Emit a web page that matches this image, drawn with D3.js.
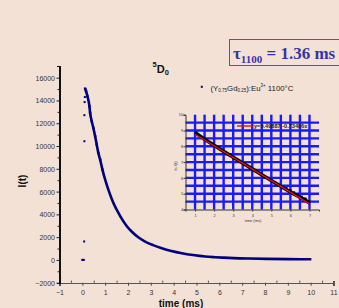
<!DOCTYPE html>
<html><head><meta charset="utf-8">
<script src="https://cdn.jsdelivr.net/npm/d3@7"></script>
<style>
html,body{margin:0;padding:0;background:#f3e1d6;}
svg{display:block;}
text{font-family:"Liberation Sans",Arial,sans-serif;}
text.serif{font-family:"Liberation Serif","Times New Roman",serif;}
</style></head>
<body>
<script>
// ---- data ----
const xTicks = [-1,0,1,2,3,4,5,6,7,8,9,10,11];
const yTicks = [-2000,0,2000,4000,6000,8000,10000,12000,14000,16000];
const earlyT = [0.00,0.02,0.04,0.06,0.08,0.09,0.09,0.10,0.11];
const earlyI = [0,0,0,0,1620,10420,12710,13860,14300];
const decayT = [0.12,0.16,0.22,0.31,0.34,0.41,0.48,0.56,0.63,0.70,0.78,0.88,1.00,1.14,1.28,1.43,1.58,1.73,1.95,2.17,2.45,2.75,3.10,3.48,3.90,4.36,4.85,5.38,5.82,6.20,6.62,7.30,8.09,9.00,10.03];
const decayI = [15040,14830,14390,13500,12920,12190,11600,10860,10130,9400,8810,7930,7050,6170,5400,4700,4130,3600,2960,2470,1990,1610,1300,1030,790,590,430,300,240,200,160,120,90,70,60];
const insetXTicks = [1,2,3,4,5,6,7];
const insetYTicks = [4,5,6,7,8,9,10];
const lnT = [1.0,1.25,1.5,1.75,2.0,2.5,3.0,3.5,4.0,4.5,5.0,5.5,5.8,6.0,6.2,6.4,6.6,6.8,7.0];
const lnY = [8.88,8.66,8.45,8.26,8.06,7.68,7.31,6.94,6.57,6.20,5.83,5.47,5.25,5.12,4.97,4.85,4.70,4.58,4.40];
const fitIntercept = 9.49887, fitSlope = 0.73486;
const fitT = [1,7];
const gridX = [1,1.5,2,2.5,3,3.5,4,4.5,5,5.5,6,6.5,7];
const gridY = [4.5,5,5.5,6,6.5,7,7.5,8,8.5,9,9.5];

const W=339,H=308;
const svg=d3.select("body").append("svg").attr("width",W).attr("height",H);
svg.append("rect").attr("width",W).attr("height",H).attr("fill","#f3e1d6");

const x=d3.scaleLinear().domain([-1,11]).range([59.5,333.5]);
const y=d3.scaleLinear().domain([-2000,17000]).range([282.7,66.3]);

// axes
const gx=svg.append("g").attr("transform",`translate(0,${y(-2000)})`);
gx.call(d3.axisBottom(x).tickValues(xTicks).tickSize(3).tickFormat(d3.format("d")));
const gxm=svg.append("g").attr("transform",`translate(0,${y(-2000)})`);
gxm.call(d3.axisBottom(x).tickValues(d3.range(-0.5,11,1)).tickSize(-2).tickFormat(""));
const gy=svg.append("g").attr("transform",`translate(${x(-1)},0)`);
gy.call(d3.axisLeft(y).tickValues(yTicks).tickSize(3).tickFormat(d3.format("d")));
const gym=svg.append("g").attr("transform",`translate(${x(-1)},0)`);
gym.call(d3.axisLeft(y).tickValues(d3.range(-1000,17000,2000)).tickSize(2).tickFormat(""));
[gx,gxm].forEach(g=>{g.select(".domain").attr("stroke","#555").attr("stroke-width",1.2);g.selectAll(".tick line").attr("stroke","#444");});
gy.select(".domain").attr("stroke","#111").attr("stroke-width",1.2);
gym.select(".domain").remove();
gy.selectAll(".tick line").attr("stroke","#222");
gym.selectAll(".tick line").attr("stroke","#222");
gx.selectAll("text").attr("font-size",7).attr("fill","#333").attr("dy","0.9em");
gy.selectAll("text").attr("font-size",7).attr("fill","#333").attr("dy","0.35em").attr("x",-4.5);
svg.selectAll(".domain").attr("shape-rendering","crispEdges");

// main curve
const dec=decayT.map((t,i)=>[t,decayI[i]]);
svg.append("path").datum(dec)
  .attr("d",d3.line().x(d=>x(d[0])).y(d=>y(d[1])).curve(d3.curveMonotoneX))
  .attr("fill","none").attr("stroke","#00007f").attr("stroke-width",2.6);
svg.append("g").selectAll("rect").data(earlyT.map((t,i)=>[t,earlyI[i]])).join("rect")
  .attr("x",d=>x(d[0])-1).attr("y",d=>y(d[1])-1).attr("width",2).attr("height",2).attr("fill","#00007f");
svg.append("g").selectAll("rect").data(dec.slice(0,12)).join("rect")
  .attr("x",d=>x(d[0])-1.2).attr("y",d=>y(d[1])-1.2).attr("width",2.4).attr("height",2.4).attr("fill","#00007f");

// axis labels
svg.append("text").attr("transform",`translate(26,181) rotate(-90)`).attr("text-anchor","middle")
  .attr("font-size",10).attr("font-weight","bold").attr("fill","#111").text("I(t)");
svg.append("text").attr("x",181).attr("y",307).attr("text-anchor","middle")
  .attr("font-size",10).attr("font-weight","bold").attr("fill","#111").text("time (ms)");

// title 5D0
const tt=svg.append("text").attr("x",152.5).attr("y",73).attr("font-size",11).attr("font-weight","bold").attr("fill","#111");
tt.append("tspan").attr("font-size",7.5).attr("dy",-6).text("5");
tt.append("tspan").attr("dy",6).text("D");
tt.append("tspan").attr("font-size",7.5).attr("dy",2).text("0");

// tau box
svg.append("rect").attr("x",229.5).attr("y",39.5).attr("width",120).attr("height",26)
  .attr("fill","none").attr("stroke","#a83a6a").attr("stroke-width",1);
const tau=svg.append("text").attr("class","serif").attr("x",233).attr("y",59)
  .attr("font-weight","bold").attr("font-size",17).attr("fill","#3434a8");
tau.append("tspan").text("τ");
tau.append("tspan").attr("font-size",11).attr("dy",4).text("1100");
tau.append("tspan").attr("dy",-4).text(" = 1.36 ms");

// legend
svg.append("rect").attr("x",200.8).attr("y",85.8).attr("width",2).attr("height",2).attr("fill","#00007f");
const lg=svg.append("text").attr("x",210.5).attr("y",90.5).attr("font-size",7.8).attr("fill","#222");
lg.append("tspan").text("(Y");
lg.append("tspan").attr("font-size",4.5).attr("dy",1.8).text("0.75");
lg.append("tspan").attr("dy",-1.8).text("Gd");
lg.append("tspan").attr("font-size",4.5).attr("dy",1.8).text("0.25");
lg.append("tspan").attr("dy",-1.8).text("):Eu");
lg.append("tspan").attr("font-size",4.5).attr("dy",-3.2).text("3+");
lg.append("tspan").attr("dy",3.2).text(" 1100°C");

// inset
const ix=d3.scaleLinear().domain([0.5,7.5]).range([185.5,319]);
const iy=d3.scaleLinear().domain([4,10]).range([209.5,114.7]);
const ig=svg.append("g");
ig.selectAll("line.gx").data(gridX).join("line").attr("class","gx")
  .attr("x1",d=>ix(d)).attr("x2",d=>ix(d)).attr("y1",iy(10)).attr("y2",iy(4))
  .attr("stroke","#1a1aff").attr("stroke-width",2.4);
ig.selectAll("line.gy").data(gridY).join("line").attr("class","gy")
  .attr("x1",ix(0.5)).attr("x2",ix(7.5)).attr("y1",d=>iy(d)).attr("y2",d=>iy(d))
  .attr("stroke","#1a1aff").attr("stroke-width",2.4);
const igx=ig.append("g").attr("transform",`translate(0,${iy(4)})`).call(d3.axisBottom(ix).tickValues(insetXTicks).tickSize(2).tickFormat(d3.format("d")));
const igy=ig.append("g").attr("transform",`translate(${ix(0.5)},0)`).call(d3.axisLeft(iy).tickValues(insetYTicks).tickSize(2).tickFormat(d3.format("d")));
[igx,igy].forEach(g=>{g.select(".domain").attr("stroke","#333").attr("stroke-width",1);g.selectAll(".tick line").attr("stroke","#333");
  g.selectAll("text").attr("font-size",3.8).attr("fill","#333");});
igx.selectAll("text").attr("dy","0.6em");
igy.selectAll("text").attr("x",-2.5);
const lnD=lnT.map((t,i)=>[t,lnY[i]]);
ig.append("path").datum(lnD).attr("d",d3.line().x(d=>ix(d[0])).y(d=>iy(d[1])))
  .attr("fill","none").attr("stroke","#000").attr("stroke-width",3.6);
ig.append("g").selectAll("rect").data(lnD.slice(12)).join("rect")
  .attr("x",d=>ix(d[0])-2).attr("y",d=>iy(d[1])-2.8).attr("width",3).attr("height",3).attr("fill","#000");
ig.append("path").datum(fitT.map(t=>[t,fitIntercept-fitSlope*t]))
  .attr("d",d3.line().x(d=>ix(d[0])).y(d=>iy(d[1])))
  .attr("fill","none").attr("stroke","#e01010").attr("stroke-width",1.4);
ig.append("line").attr("x1",237).attr("x2",253).attr("y1",126).attr("y2",126).attr("stroke","#e01010").attr("stroke-width",1.4);
ig.append("text").attr("x",254).attr("y",128).attr("font-size",5.6).attr("font-weight","bold").attr("fill","#222")
  .text("y=9.49887 -0.73486x");
ig.append("text").attr("transform","translate(176.5,166) rotate(-90)").attr("text-anchor","middle")
  .attr("font-size",4).attr("fill","#333").text("ln I(t)");
ig.append("text").attr("x",253).attr("y",221.5).attr("text-anchor","middle")
  .attr("font-size",4).attr("fill","#333").text("time (ms)");
</script>
</body></html>
